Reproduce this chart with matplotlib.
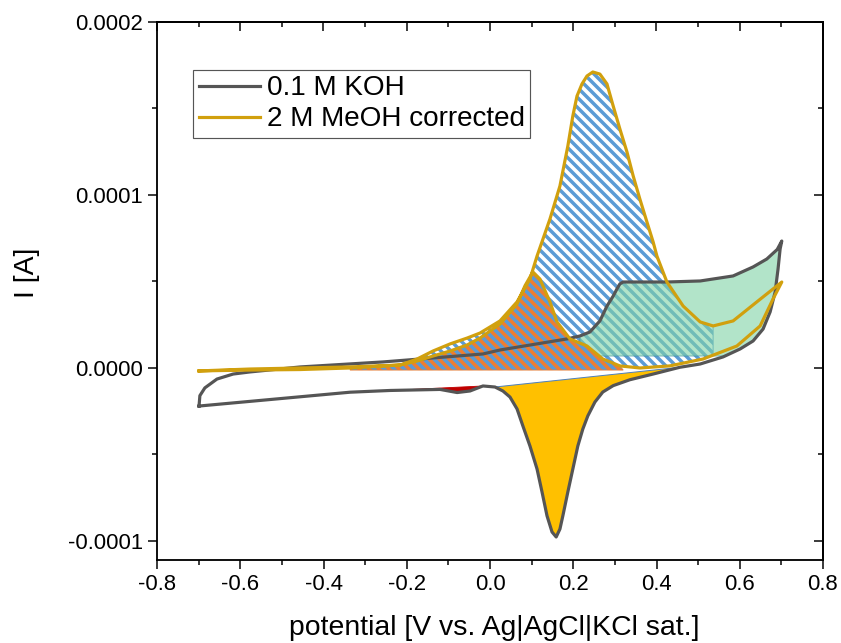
import numpy as np
import matplotlib.pyplot as plt
from matplotlib.ticker import MultipleLocator, FormatStrFormatter

plt.rcParams['font.family'] = ['Liberation Sans', 'DejaVu Sans']
plt.rcParams['hatch.linewidth'] = 2.1

# 0.1 M KOH blank, anodic sweep then cathodic sweep (current in 1e-5 A)
e_koh_fwd = np.array([-0.699, -0.697, -0.685, -0.656, -0.617, -0.577, -0.456, -0.257, -0.199,
                      -0.017, 0.024, 0.185, 0.216, 0.240, 0.264, 0.281, 0.296, 0.305, 0.312,
                      0.320, 0.425, 0.505, 0.584, 0.632, 0.665, 0.690, 0.701])
i_koh_fwd = np.array([-2.20, -1.60, -1.15, -0.64, -0.35, -0.23, 0.06, 0.35, 0.46,
                      0.81, 1.04, 1.68, 1.85, 2.08, 2.72, 3.58, 4.16, 4.57, 4.86,
                      4.97, 4.97, 5.03, 5.32, 5.84, 6.30, 6.85, 7.34]) * 1e-5
e_koh_rev = np.array([0.697, 0.692, 0.685, 0.673, 0.656, 0.632, 0.601, 0.560, 0.505, 0.456,
                      0.392, 0.336, 0.296, 0.271, 0.252, 0.235, 0.223, 0.211, 0.199, 0.187,
                      0.175, 0.168, 0.159, 0.149, 0.137, 0.125, 0.113, 0.096, 0.079, 0.065,
                      0.048, 0.031, 0.012, -0.017, -0.048, -0.079, -0.120, -0.240, -0.336, -0.699])
i_koh_rev = np.array([6.88, 5.72, 4.39, 3.24, 2.25, 1.56, 1.10, 0.64, 0.23, 0.04,
                      -0.35, -0.68, -1.02, -1.39, -1.97, -2.77, -3.53, -4.51, -5.84, -7.17,
                      -8.55, -9.31, -9.77, -9.48, -8.55, -7.17, -5.84, -4.51, -3.35, -2.37,
                      -1.68, -1.33, -1.10, -1.04, -1.33, -1.42, -1.24, -1.30, -1.40, -2.20]) * 1e-5

# 2 M MeOH, background corrected
e_meoh_fwd = np.array([-0.699, -0.577, -0.456, -0.336, -0.216, -0.175, -0.137, -0.096, -0.055,
                       -0.024, 0.024, 0.065, 0.096, 0.113, 0.144, 0.168, 0.187, 0.199, 0.209,
                       0.221, 0.233, 0.247, 0.264, 0.281, 0.296, 0.312, 0.329, 0.344, 0.360,
                       0.377, 0.392, 0.401, 0.425, 0.464, 0.505, 0.536, 0.584, 0.641, 0.701])
i_meoh_fwd = np.array([-0.17, -0.12, -0.09, 0.00, 0.17, 0.52, 0.98, 1.39, 1.73,
                       2.02, 2.72, 3.82, 5.14, 6.47, 8.61, 10.52, 12.83, 14.57, 15.72,
                       16.42, 16.88, 17.11, 16.99, 16.42, 15.14, 13.82, 12.49, 11.10, 9.77,
                       8.44, 7.28, 6.47, 4.97, 3.58, 2.66, 2.43, 2.72, 3.82, 4.97]) * 1e-5
e_meoh_rev = np.array([0.680, 0.649, 0.593, 0.512, 0.432, 0.360, 0.312, 0.271, 0.233, 0.192,
                       0.161, 0.144, 0.120, 0.103, 0.084, 0.065, 0.024, -0.024, -0.055, -0.096,
                       -0.137, -0.175, -0.216, -0.336, -0.577, -0.699])
i_meoh_rev = np.array([3.99, 2.43, 1.27, 0.52, 0.12, 0.00, 0.12, 0.52, 1.27, 1.68,
                       2.66, 3.82, 5.14, 5.55, 4.75, 3.70, 2.54, 1.73, 1.33, 0.98,
                       0.69, 0.40, 0.17, 0.06, -0.06, -0.17]) * 1e-5

# integration limits / baselines of the shaded areas
fwd_window = (-0.216, 0.536)
rev_window = (-0.336, 0.32)
rev_base = -0.12e-5
green_window = (0.216, 0.5645)
green_floor = 0.69e-5
red_window = (-0.240, -0.017)
yellow_window = (0.012, 0.456)

blue = '#5B9BD5'
orange = '#ED7D31'
grey = '#555555'
gold = '#D1A00E'
hatch = '\\' * 4

fig = plt.figure(figsize=(841 / 120, 643 / 120), dpi=120)
ax = fig.add_axes([157 / 841, 1 - 560 / 643, 666 / 841, 538 / 643])

# forward MeOH area (between forward and reverse sweep)
m = (e_meoh_fwd >= fwd_window[0]) & (e_meoh_fwd <= fwd_window[1])
r = (e_meoh_rev > fwd_window[0]) & (e_meoh_rev < fwd_window[1])
i_cut = np.interp(fwd_window[1], e_meoh_rev[::-1], i_meoh_rev[::-1])
px = np.concatenate([e_meoh_fwd[m], [fwd_window[1]], e_meoh_rev[r]])
py = np.concatenate([i_meoh_fwd[m], [i_cut], i_meoh_rev[r]])
ax.fill(px, py, facecolor='none', edgecolor=blue, hatch=hatch, lw=0.6, zorder=1)

# KOH oxide formation area
m = e_koh_fwd >= green_window[0]
r = i_koh_rev >= green_floor
px = np.concatenate([e_koh_fwd[m], e_koh_rev[r], [green_window[1], green_window[0]]])
py = np.concatenate([i_koh_fwd[m], i_koh_rev[r], [green_floor, green_floor]])
ax.fill(px, py, facecolor='#7FD3A6', alpha=0.6, edgecolor='#3E8FA0', lw=0.6, zorder=2)

# reverse MeOH peak area
r = (e_meoh_rev >= rev_window[0]) & (e_meoh_rev <= rev_window[1])
px = np.concatenate([e_meoh_rev[r], [rev_window[0], rev_window[1]]])
py = np.concatenate([i_meoh_rev[r], [rev_base, rev_base]])
ax.fill(px, py, facecolor=blue, edgecolor=orange, hatch=hatch, lw=0.5, zorder=3)

# oxide reduction peak
r = (e_koh_rev >= yellow_window[0]) & (e_koh_rev <= yellow_window[1])
ax.fill(e_koh_rev[r], i_koh_rev[r], facecolor='#FFC000', edgecolor='#4F81BD', lw=0.6, zorder=3)

# small reduction dip
r = (e_koh_rev >= red_window[0]) & (e_koh_rev <= red_window[1])
ax.fill(e_koh_rev[r], i_koh_rev[r], facecolor='#C00000', edgecolor='#C00000', lw=0.5, zorder=3)

ax.plot(np.concatenate([e_koh_fwd, e_koh_rev]), np.concatenate([i_koh_fwd, i_koh_rev]),
        color=grey, lw=1.9, label='0.1 M KOH', zorder=4, solid_joinstyle='round')
ax.plot(np.concatenate([e_meoh_fwd, e_meoh_rev]), np.concatenate([i_meoh_fwd, i_meoh_rev]),
        color=gold, lw=1.9, label='2 M MeOH corrected', zorder=5, solid_joinstyle='round')

ax.set_xlim(-0.8, 0.8)
ax.set_ylim(-0.000111, 0.0002)
ax.xaxis.set_major_locator(MultipleLocator(0.2))
ax.xaxis.set_minor_locator(MultipleLocator(0.1))
ax.yaxis.set_major_locator(MultipleLocator(0.0001))
ax.yaxis.set_minor_locator(MultipleLocator(0.00005))
ax.xaxis.set_major_formatter(FormatStrFormatter('%.1f'))
ax.yaxis.set_major_formatter(FormatStrFormatter('%.4f'))
ax.tick_params(which='major', direction='out', length=5.4, width=0.9, labelsize=13.3, pad=3)
ax.tick_params(which='minor', direction='out', length=3, width=0.9)
for s in ax.spines.values():
    s.set_linewidth(1.1)

top = ax.secondary_xaxis('top')
top.xaxis.set_major_locator(MultipleLocator(0.2))
top.xaxis.set_minor_locator(MultipleLocator(0.1))
top.tick_params(which='major', direction='in', length=5.4, width=0.9, labeltop=False)
top.tick_params(which='minor', direction='in', length=3, width=0.9)
top.spines['top'].set_linewidth(1.1)
right = ax.secondary_yaxis('right')
right.yaxis.set_major_locator(MultipleLocator(0.0001))
right.yaxis.set_minor_locator(MultipleLocator(0.00005))
right.tick_params(which='major', direction='in', length=5.4, width=0.9, labelright=False)
right.tick_params(which='minor', direction='in', length=3, width=0.9)
right.spines['right'].set_linewidth(1.1)

ax.set_xlabel('potential [V vs. Ag|AgCl|KCl sat.]', fontsize=17)
ax.set_ylabel('I [A]', fontsize=17)
ax.xaxis.set_label_coords(0.506, -0.126)
ax.xaxis.label.set_va('center')
ax.yaxis.set_label_coords(-0.195, 0.533)
ax.yaxis.label.set_va('center')

leg = ax.legend(loc='upper left', bbox_to_anchor=(0.054, 0.911), borderaxespad=0,
                fontsize=16.7, handlelength=2.2, handletextpad=0.25, borderpad=0.2,
                labelspacing=0.18, fancybox=False, framealpha=1)
leg.get_frame().set_edgecolor('#555555')
leg.get_frame().set_linewidth(0.7)

fig.savefig('out.png', dpi=120)
